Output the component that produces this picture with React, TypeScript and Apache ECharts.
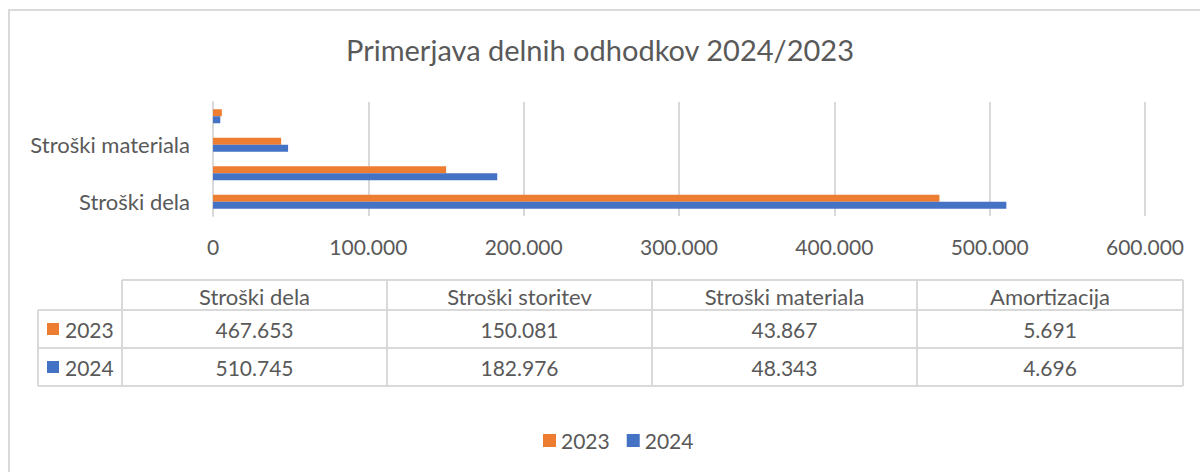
import React, { useEffect, useRef } from "react";
import * as echarts from "echarts";

const categories = ["Stroški dela", "Stroški storitev", "Stroški materiala", "Amortizacija"];
const seriesNames = ["2023", "2024"];
const values2023 = [467653, 150081, 43867, 5691];
const values2024 = [510745, 182976, 48343, 4696];
const seriesColors = ["#ED7D31", "#4472C4"];
const titleText = "Primerjava delnih odhodkov 2024/2023";

const FONT = "Lato, 'Open Sans', sans-serif";
const TEXT = "#595959";
const LINE = "#d9d9d9";

function fmt(v: number): string {
  return String(Math.round(v)).replace(/\B(?=(\d{3})+(?!\d))/g, ".");
}

function buildTable(): any[] {
  const colX = [38, 122, 387, 652, 917, 1183];
  const rowY = [280, 310, 348, 386];
  const els: any[] = [];
  const ln = (x1: number, y1: number, x2: number, y2: number) => ({
    type: "line",
    shape: { x1, y1, x2, y2 },
    style: { stroke: LINE, lineWidth: 2 },
    silent: true,
  });
  els.push(ln(colX[1], rowY[0], colX[5], rowY[0]));
  for (let i = 1; i < rowY.length; i++) els.push(ln(colX[0], rowY[i], colX[5], rowY[i]));
  els.push(ln(colX[0], rowY[1], colX[0], rowY[3]));
  for (let i = 1; i < colX.length; i++) els.push(ln(colX[i], rowY[0], colX[i], rowY[3]));
  const txt = (x: number, y: number, t: string, size: number, align = "center") => ({
    type: "text",
    x,
    y,
    style: { text: t, fill: TEXT, font: `${size}px ${FONT}`, textAlign: align, textVerticalAlign: "middle" },
    silent: true,
  });
  categories.forEach((c, i) => {
    els.push(txt((colX[i + 1] + colX[i + 2]) / 2, (rowY[0] + rowY[1]) / 2 + 1, c, 22));
  });
  const rows = [values2023, values2024];
  rows.forEach((vals, r) => {
    const cy = (rowY[r + 1] + rowY[r + 2]) / 2;
    els.push({
      type: "rect",
      shape: { x: 47, y: cy - 6, width: 12, height: 12 },
      style: { fill: seriesColors[r] },
      silent: true,
    });
    els.push(txt(65, cy, seriesNames[r], 21, "left"));
    vals.forEach((v, i) => {
      els.push(txt((colX[i + 1] + colX[i + 2]) / 2, cy, fmt(v), 21));
    });
  });
  return els;
}

export default function App() {
  const ref = useRef<HTMLDivElement>(null);
  useEffect(() => {
    document.body.style.margin = "0";
    if (!ref.current) return;
    const chart = echarts.init(ref.current, undefined, { renderer: "svg" });
    chart.setOption({
      animation: false,
      backgroundColor: "#ffffff",
      title: {
        text: titleText,
        left: "center",
        top: 30,
        textStyle: { fontFamily: FONT, fontSize: 29, fontWeight: "normal", color: TEXT },
      },
      legend: {
        data: seriesNames,
        left: 538,
        top: 425,
        icon: "rect",
        itemWidth: 13,
        itemHeight: 13,
        itemGap: 17,
        textStyle: { fontFamily: FONT, fontSize: 21, color: TEXT },
      },
      grid: { left: 213, right: 55, top: 102, bottom: 256, containLabel: false },
      xAxis: {
        type: "value",
        min: 0,
        max: 600000,
        interval: 100000,
        axisLine: { show: false },
        axisTick: { show: false },
        splitLine: { lineStyle: { color: LINE, width: 2 } },
        axisLabel: {
          margin: 20,
          fontFamily: FONT,
          fontSize: 21,
          color: TEXT,
          formatter: (v: number) => fmt(v),
        },
      },
      yAxis: {
        type: "category",
        data: categories,
        axisLine: { lineStyle: { color: LINE, width: 2 } },
        axisTick: { show: false },
        axisLabel: { interval: 1, margin: 23, fontFamily: FONT, fontSize: 22, color: TEXT },
      },
      series: [
        { name: seriesNames[0], type: "bar", data: values2023, barWidth: 7, barGap: "0%", itemStyle: { color: seriesColors[0] } },
        { name: seriesNames[1], type: "bar", data: values2024, barWidth: 7, barGap: "0%", itemStyle: { color: seriesColors[1] } },
      ],
      graphic: [
        { type: "line", shape: { x1: 8, y1: 10, x2: 1200, y2: 10 }, style: { stroke: LINE, lineWidth: 2 }, silent: true },
        { type: "line", shape: { x1: 9, y1: 10, x2: 9, y2: 472 }, style: { stroke: LINE, lineWidth: 2 }, silent: true },
        ...buildTable(),
      ],
    });
    return () => chart.dispose();
  }, []);
  return <div ref={ref} style={{ width: 1200, height: 472 }} />;
}
